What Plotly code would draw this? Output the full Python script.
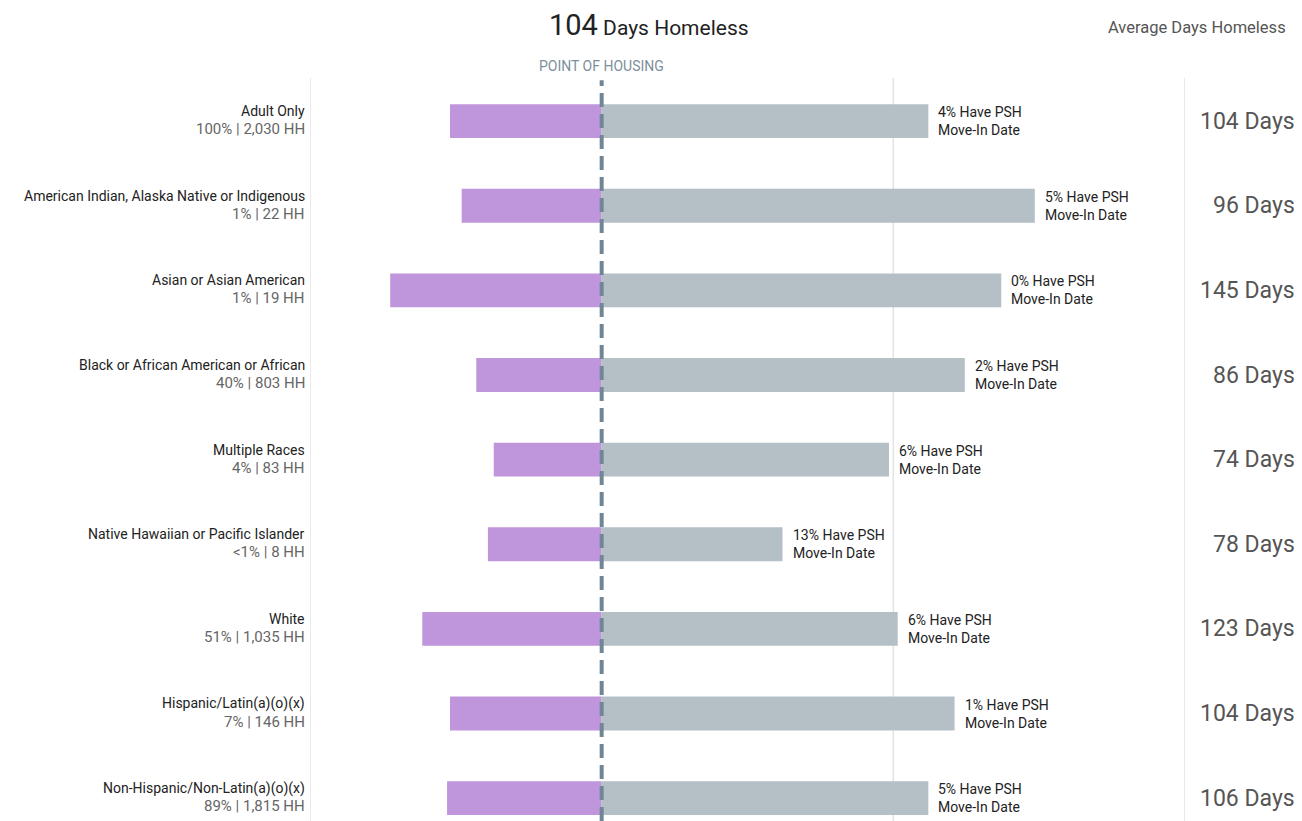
import plotly.graph_objects as go

# rows, top to bottom
groups = [
    "Adult Only",
    "American Indian, Alaska Native or Indigenous",
    "Asian or Asian American",
    "Black or African American or African",
    "Multiple Races",
    "Native Hawaiian or Pacific Islander",
    "White",
    "Hispanic/Latin(a)(o)(x)",
    "Non-Hispanic/Non-Latin(a)(o)(x)",
]
share_pct = ["100%", "1%", "1%", "40%", "4%", "<1%", "51%", "7%", "89%"]
households = ["2,030", "22", "19", "803", "83", "8", "1,035", "146", "1,815"]
days_before = [104, 96, 145, 86, 74, 78, 123, 104, 106]
days_after = [224, 297, 274, 249, 197, 124, 203, 242, 224]
psh_pct = [4, 5, 0, 2, 6, 13, 6, 1, 5]
avg_days = [104, 96, 145, 86, 74, 78, 123, 104, 106]

PURPLE = "#bf95db"
GREY = "#b4bfc6"
FONT = "Roboto"

fig = go.Figure()
fig.add_trace(go.Bar(
    y=groups, x=[-d for d in days_before], orientation="h",
    marker=dict(color=PURPLE, line=dict(width=0)), width=0.4,
    hoverinfo="skip",
))
fig.add_trace(go.Bar(
    y=groups, x=days_after, orientation="h",
    marker=dict(color=GREY, line=dict(width=0)), width=0.4,
    hoverinfo="skip",
))

# light separators at the edges and the 200-day mark
for xv in [-200, 200, 400]:
    fig.add_shape(type="line", xref="x", yref="paper", x0=xv, x1=xv, y0=0, y1=1,
                  line=dict(color="#e3e3e3", width=1.5), layer="below")

# point of housing line
fig.add_shape(type="line", xref="x", yref="paper", x0=0, x1=0, y0=0, y1=0.997,
              line=dict(color="#718695", width=4, dash="14px,7px"), layer="above")

annotations = []
for i, g in enumerate(groups):
    annotations.append(dict(
        x=-200, y=g, xref="x", yref="y", text=g, showarrow=False,
        xanchor="right", yanchor="middle", xshift=-3, yshift=10,
        font=dict(family=FONT, size=14, color="#222222"),
    ))
    annotations.append(dict(
        x=-200, y=g, xref="x", yref="y",
        text=f"{share_pct[i]} | {households[i]} HH", showarrow=False,
        xanchor="right", yanchor="middle", xshift=-3, yshift=-8,
        font=dict(family=FONT, size=15, color="#666666"),
    ))
    annotations.append(dict(
        x=days_after[i], y=g, xref="x", yref="y",
        text=f"{psh_pct[i]}% Have PSH<br>Move-In Date", showarrow=False,
        xanchor="left", yanchor="middle", align="left", xshift=8,
        font=dict(family=FONT, size=14, color="#222222"),
    ))
    annotations.append(dict(
        x=400, y=g, xref="x", yref="y", text=f"{avg_days[i]} Days",
        showarrow=False, xanchor="right", yanchor="middle", xshift=112,
        font=dict(family=FONT, size=23, color="#555555"),
    ))

annotations += [
    dict(x=0.387, y=1.0713, xref="paper", yref="paper", showarrow=False,
         xanchor="center", yanchor="middle",
         text="<span style='font-size:29px'>104</span> Days Homeless",
         font=dict(family=FONT, size=21, color="#222222")),
    dict(x=1.0137, y=1.0686, xref="paper", yref="paper", showarrow=False,
         xanchor="center", yanchor="middle",
         text="Average Days Homeless",
         font=dict(family=FONT, size=16.5, color="#555555")),
    dict(x=0, y=1.016, xref="x", yref="paper", showarrow=False,
         xanchor="center", yanchor="middle",
         text="POINT OF HOUSING",
         font=dict(family=FONT, size=14, color="#7d8f9c")),
]

fig.update_layout(
    width=1294, height=813,
    margin=dict(l=302, r=117, t=70, b=0),
    paper_bgcolor="white", plot_bgcolor="white",
    barmode="overlay", showlegend=False,
    annotations=annotations,
    xaxis=dict(range=[-200, 400], showticklabels=False, showgrid=False,
               zeroline=False),
    yaxis=dict(range=[8.27, -0.51], showticklabels=False, showgrid=False,
               zeroline=False),
)

fig.write_html("out.html")
